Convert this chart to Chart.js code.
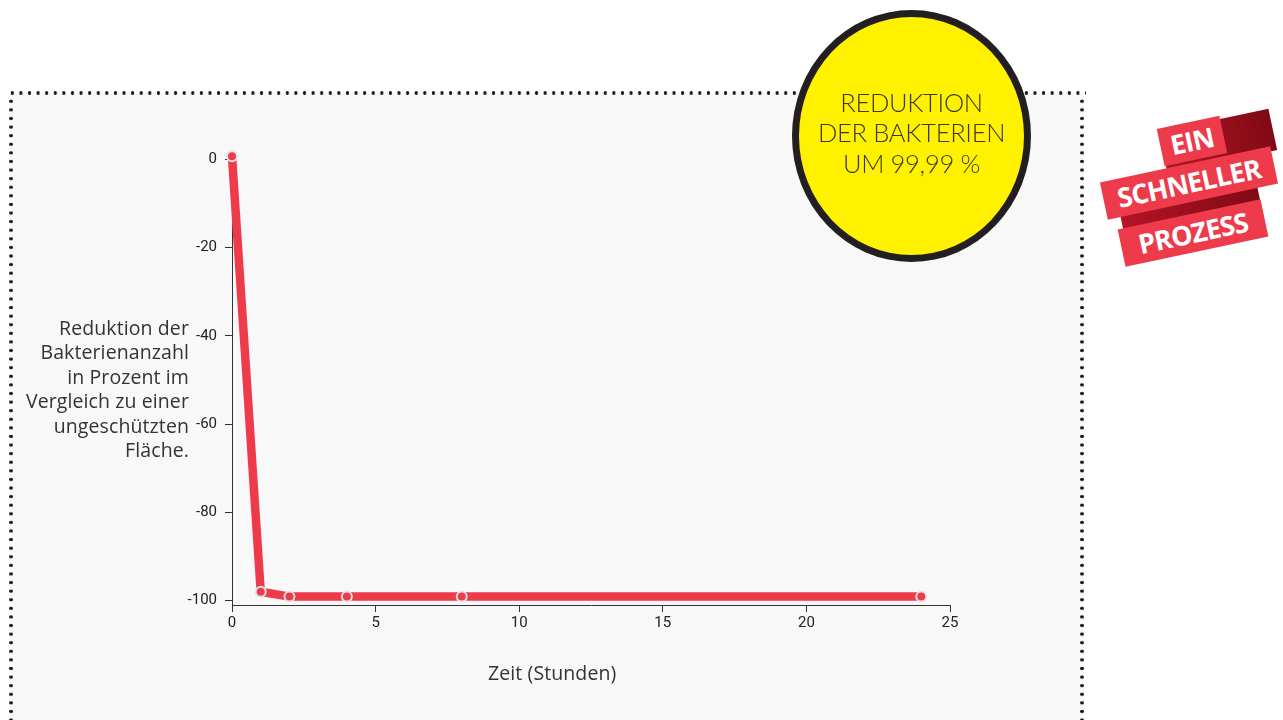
<!DOCTYPE html>
<html lang="de">

<head>
    <meta charset="UTF-8">
    <title>Reduktion der Bakterien</title>
    <style>
        html,
        body {
            margin: 0;
            width: 1283px;
            height: 720px;
            overflow: hidden;
            background: #fff;
            font-family: Lato, 'Open Sans', sans-serif;
        }

        .box {
            position: absolute;
            left: 10px;
            top: 93px;
            width: 1074px;
            height: 700px;
            background-color: #f8f8f8;
        }

        .dots-h,
        .dots-v {
            position: absolute;
            background-image: radial-gradient(circle, #1a1a1a 1.6px, transparent 2px);
        }

        .dots-h {
            left: 8px;
            top: 89px;
            width: 1078px;
            height: 8px;
            background-size: 8.6px 8px;
        }

        .dots-v {
            top: 97px;
            width: 8px;
            height: 640px;
            background-size: 8px 8.6px;
        }

        #wrap {
            position: absolute;
            left: 0;
            top: 0;
            width: 1283px;
            height: 720px;
        }

        .ytitle {
            position: absolute;
            right: calc(1283px - 189px);
            top: 316px;
            text-align: right;
            font-family: 'Open Sans', sans-serif;
            font-size: 19.5px;
            line-height: 24.4px;
            letter-spacing: 0.1px;
            color: #333;
        }

        .xtitle {
            position: absolute;
            left: 488px;
            top: 659px;
            font-family: 'Open Sans', sans-serif;
            font-size: 19.5px;
            letter-spacing: 0.1px;
            color: #333;
        }

        .badge {
            position: absolute;
            left: 792px;
            top: 10px;
            width: 225px;
            height: 238px;
            border: 7px solid #231f20;
            border-radius: 50%;
            background: #fff100;
            display: flex;
            align-items: center;
            justify-content: center;
            text-align: center;
            font-size: 25.5px;
            line-height: 30.5px;
            color: #3a3a1a;
            font-weight: 300;
            letter-spacing: -0.3px;
        }

        .badge span {
            margin-top: -7px;
        }

        .ribbon {
            position: absolute;
            left: 1100px;
            top: 106px;
            width: 180px;
            height: 165px;
        }

        .band,
        .fold {
            position: absolute;
            transform: rotate(-12deg);
        }

        .fold {
            background: linear-gradient(90deg, #b51425, #7f0a14);
        }

        .band {
            background: #ee3b4b;
            color: #fff;
            font-family: 'Open Sans', sans-serif;
            font-weight: 700;
            font-size: 27px;
            line-height: 38px;
            text-align: center;
            letter-spacing: -0.8px;
        }
    </style>
</head>

<body>
    <div class="box"></div>
    <div class="dots-h"></div>
    <div class="dots-v" style="left:7px"></div>
    <div class="dots-v" style="left:1078px"></div>

    <div id="wrap"><canvas id="canvas"></canvas></div>

    <div class="ytitle">Reduktion der<br>Bakterienanzahl<br>in Prozent im<br>Vergleich zu einer<br>ungeschützten<br>Fläche.</div>
    <div class="xtitle">Zeit (Stunden)</div>

    <div class="badge"><span>REDUKTION<br>DER BAKTERIEN<br>UM 99,99 %</span></div>

    <div class="ribbon">
        <div class="fold" style="left:62px;top:14px;width:112px;height:42px"></div>
        <div class="fold" style="left:20px;top:78px;width:140px;height:46px"></div>
        <div class="band" style="left:60px;top:16px;width:64px;height:38px">EIN</div>
        <div class="band" style="left:2px;top:58px;width:174px;height:38px">SCHNELLER</div>
        <div class="band" style="left:20px;top:108px;width:146px;height:38px">PROZESS</div>
    </div>

    <script src="https://cdnjs.cloudflare.com/ajax/libs/Chart.js/4.4.1/chart.umd.min.js"></script>

    <script>
        // Stunden und Reduktion in Prozent
        const hours = [0, 1, 2, 4, 8, 24];
        const reduction = [0.7, -98, -99.1, -99.1, -99.1, -99.1];
        const xTicks = [0, 5, 10, 15, 20, 25];
        const yTicks = [-100, -80, -60, -40, -20, 0];

        const red = '#ee3b4b';
        const tickFont = { family: "'Liberation Sans Narrow', Roboto, sans-serif", size: 15 };

        const config = {
            type: 'line',
            data: {
                datasets: [{
                    data: hours.map((h, i) => ({ x: h, y: reduction[i] })),
                    borderColor: red,
                    borderWidth: 8.5,
                    borderJoinStyle: 'round',
                    tension: 0,
                    pointRadius: 5,
                    pointBackgroundColor: red,
                    pointBorderColor: '#e4e4e4',
                    pointBorderWidth: 2,
                    clip: false
                }]
            },
            options: {
                responsive: false,
                animation: false,
                layout: { padding: { left: 176, right: 333, top: 155, bottom: 85 } },
                plugins: { legend: { display: false }, tooltip: { enabled: false } },
                scales: {
                    x: {
                        type: 'linear',
                        min: 0,
                        max: 25,
                        afterBuildTicks: s => { s.ticks = xTicks.map(v => ({ value: v })); },
                        afterFit: s => { s.height = 30; },
                        border: { color: '#333', width: 1 },
                        grid: { drawOnChartArea: false, tickLength: 7, tickColor: '#333' },
                        ticks: { color: '#222', font: tickFont, padding: 2, maxRotation: 0 }
                    },
                    y: {
                        min: -101,
                        max: 1,
                        afterBuildTicks: s => { s.ticks = yTicks.map(v => ({ value: v })); },
                        afterFit: s => { s.width = 56; },
                        border: { color: '#333', width: 1 },
                        grid: { drawOnChartArea: false, tickLength: 7, tickColor: '#333' },
                        ticks: { color: '#222', font: tickFont, padding: 8 }
                    }
                }
            }
        };

        const canvas = document.querySelector('#canvas');
        canvas.width = 1283;
        canvas.height = 720;
        new Chart(canvas, config);
    </script>
</body>

</html>
